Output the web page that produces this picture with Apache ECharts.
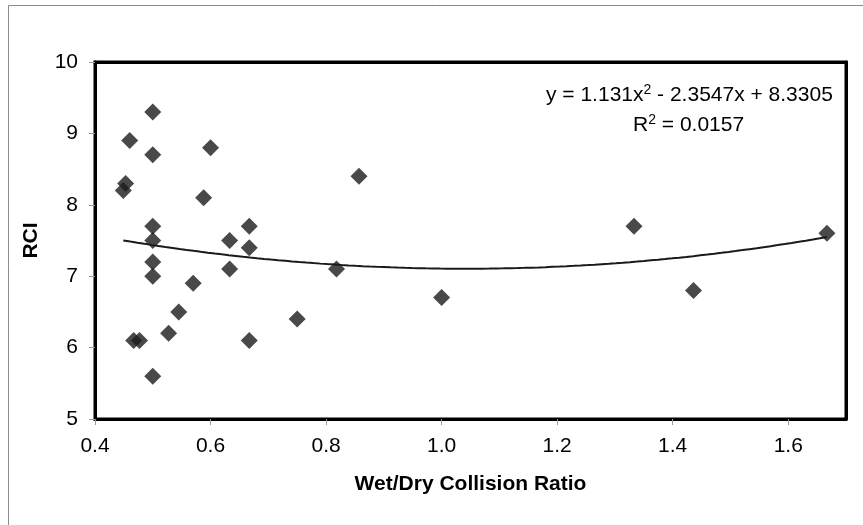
<!DOCTYPE html>
<html>
<head>
<meta charset="utf-8">
<script src="https://cdn.jsdelivr.net/npm/echarts@6/dist/echarts.min.js"></script>
<style>
  html, body { margin: 0; padding: 0; background: #fff; }
  #chart { width: 863px; height: 525px; }
</style>
</head>
<body>
<div id="chart"></div>
<script>
// Wet/Dry collision ratio against RCI score
const ratio = [0.449, 0.453, 0.46, 0.467, 0.477, 0.5, 0.5, 0.5, 0.5, 0.5, 0.5, 0.5,
               0.5275, 0.545, 0.57, 0.588, 0.6, 0.633, 0.633, 0.667, 0.667, 0.667,
               0.75, 0.818, 0.857, 1.0, 1.333, 1.436, 1.667];
const rci = [8.2, 8.3, 8.9, 6.1, 6.1, 9.3, 8.7, 7.7, 7.5, 7.2, 7.0, 5.6,
             6.2, 6.5, 6.9, 8.1, 8.8, 7.5, 7.1, 7.7, 7.4, 6.1,
             6.4, 7.1, 8.4, 6.7, 7.7, 6.8, 7.6];

// Polynomial trendline coefficients (a·x² + b·x + c) and R²
const trendCoef = [1.131, -2.3547, 8.3305];
const rSquared = 0.0157;

const xTicks = ['0.4', '0.6', '0.8', '1.0', '1.2', '1.4', '1.6'];
const yTicks = ['5', '6', '7', '8', '9', '10'];

const points = ratio.map((x, i) => [x, rci[i]]);

// Sample the fitted curve across the range of the data
const xMin = Math.min(...ratio), xMax = Math.max(...ratio);
const trend = [];
for (let i = 0; i <= 100; i++) {
  const x = xMin + (xMax - xMin) * i / 100;
  trend.push([x, trendCoef[0] * x * x + trendCoef[1] * x + trendCoef[2]]);
}

const font = '"Liberation Sans", Arial, sans-serif';
const frameLine = { show: true, lineStyle: { color: '#000', width: 3 } };
const chart = echarts.init(document.getElementById('chart'), null, { renderer: 'canvas' });

chart.setOption({
  animation: false,
  backgroundColor: '#fff',
  textStyle: { fontFamily: font },
  grid: {
    left: 95, right: 17, top: 62, bottom: 106,
    show: true, borderColor: '#000', borderWidth: 3, backgroundColor: 'transparent'
  },
  graphic: [
    {
      type: 'rect', silent: true, z: -10,
      shape: { x: 8.5, y: 5.5, width: 900, height: 600 },
      style: { fill: 'none', stroke: '#8a8a8a', lineWidth: 1 }
    },
    {
      type: 'text', left: 546, top: 83, z: 10,
      style: {
        text: '{t|y = ' + trendCoef[0] + 'x}{s|2}{t| - ' + Math.abs(trendCoef[1]) + 'x + ' + trendCoef[2] + '}',
        rich: {
          t: { fontSize: 21, fontFamily: font, fill: '#000' },
          s: { fontSize: 14, fontFamily: font, fill: '#000', padding: [0, 0, 10, 0] }
        }
      }
    },
    {
      type: 'text', left: 633, top: 113, z: 10,
      style: {
        text: '{t|R}{s|2}{t| = ' + rSquared.toFixed(4) + '}',
        rich: {
          t: { fontSize: 21, fontFamily: font, fill: '#000' },
          s: { fontSize: 14, fontFamily: font, fill: '#000', padding: [0, 0, 10, 0] }
        }
      }
    }
  ],
  xAxis: [
    {
      type: 'value', min: 0.4, max: 1.7, interval: 0.2,
      name: 'Wet/Dry Collision Ratio', nameLocation: 'middle', nameGap: 55,
      nameTextStyle: { fontSize: 21, fontWeight: 'bold', color: '#000', fontFamily: font },
      axisLine: frameLine,
      axisTick: { show: true, inside: false, length: 6, lineStyle: { color: '#999', width: 1 } },
      axisLabel: {
        fontSize: 21, color: '#000', margin: 17, showMaxLabel: false, fontFamily: font,
        formatter: v => xTicks[Math.round((v - 0.4) / 0.2)] || ''
      },
      splitLine: { show: false }
    },
    {
      type: 'value', position: 'top', min: 0.4, max: 1.7,
      axisLine: frameLine, axisTick: { show: false }, axisLabel: { show: false },
      splitLine: { show: false }
    }
  ],
  yAxis: [
    {
      type: 'value', min: 5, max: 10, interval: 1,
      name: 'RCI', nameLocation: 'middle', nameGap: 53,
      nameTextStyle: { fontSize: 21, fontWeight: 'bold', color: '#000', fontFamily: font },
      axisLine: frameLine,
      axisTick: { show: true, inside: false, length: 6, lineStyle: { color: '#999', width: 1 } },
      axisLabel: {
        fontSize: 21, color: '#000', margin: 17, fontFamily: font,
        formatter: v => yTicks[Math.round(v - 5)] || ''
      },
      splitLine: { show: false }
    },
    {
      type: 'value', position: 'right', min: 5, max: 10,
      axisLine: frameLine, axisTick: { show: false }, axisLabel: { show: false },
      splitLine: { show: false }
    }
  ],
  series: [
    {
      type: 'line', data: trend, showSymbol: false, smooth: false,
      lineStyle: { color: '#1a1a1a', width: 2 }, z: 2
    },
    {
      type: 'scatter', data: points, symbol: 'diamond', symbolSize: [17, 17],
      itemStyle: { color: '#1c1c1c' }, z: 3
    }
  ]
});
</script>
</body>
</html>
